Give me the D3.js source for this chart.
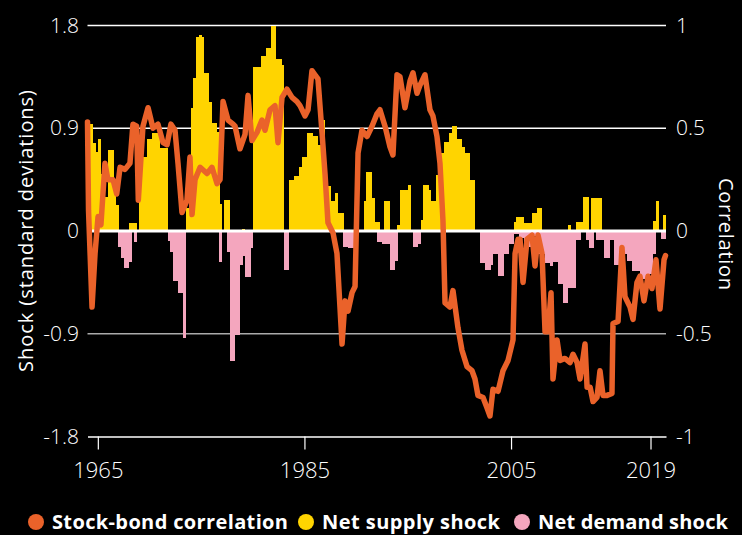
<!DOCTYPE html>
<html>
<head>
<meta charset="utf-8">
<script src="https://cdn.jsdelivr.net/npm/d3@7"></script>
<style>
  body { margin: 0; background: #000; }
  svg { display: block; font-family: "Open Sans", Roboto, sans-serif; }
</style>
</head>
<body>
<script>
// quarterly shocks, first quarter = 1964 Q1
var startYear = 1964;

var supplyShock = [
  0.94, 0.94, 0.77, 0.69, 0.81, 0.5, 0.3, 0.3,
  0.71, 0.71, 0.39, 0.23, 0, 0, 0, 0,
  0.07, 0.07, 0.07, 0, 0.6, 0.65, 0.65, 0.81,
  0.81, 0.86, 0.86, 0.86, 0.73, 0.73, 0.73, 0,
  0, 0, 0, 0, 0, 0, 0.2, 0.2,
  1.08, 1.34, 1.70, 1.72, 1.70, 1.38, 1.38, 1.13,
  0.95, 0.95, 0.87, 0.24, 0, 0.27, 0.27, 0,
  0, 0, 0, 0, 0.02, 0, 0, 0,
  1.44, 1.44, 1.44, 1.53, 1.53, 1.60, 1.60, 1.80,
  1.80, 1.51, 1.51, 1.45, 0, 0, 0.45, 0.45,
  0.48, 0.48, 0.56, 0.65, 0.65, 0.86, 0.86, 0.83,
  0.83, 0.75, 0.75, 0.97, 0.39, 0.39, 0.26, 0.26,
  0.33, 0.16, 0.16, 0, 0, 0, 0, 0,
  0, 0, 0, 0.26, 0.52, 0.52, 0.29, 0.08,
  0.08, 0, 0, 0.26, 0.26, 0, 0, 0,
  0.05, 0.36, 0.36, 0.36, 0.40, 0, 0, 0,
  0, 0.1, 0.40, 0.40, 0.36, 0.26, 0.26, 0.49,
  0.49, 0.68, 0.78, 0.78, 0.86, 0.92, 0.92, 0.81,
  0.81, 0.74, 0.68, 0.68, 0.45, 0.45, 0, 0,
  0, 0, 0, 0, 0, 0, 0, 0,
  0, 0, 0, 0, 0, 0.08, 0.12, 0.12,
  0.12, 0.07, 0.07, 0.07, 0.16, 0.16, 0.20, 0.20,
  0, 0, 0, 0, 0, 0, 0, 0,
  0, 0, 0.05, 0, 0, 0.08, 0.08, 0.08,
  0.30, 0.30, 0, 0.29, 0.29, 0.29, 0.29, 0,
  0, 0, 0, 0, 0, 0, 0, 0,
  0, 0, 0, 0, 0, 0, 0, 0,
  0, 0, 0, 0.09, 0.26, 0, 0, 0.14
];

var demandShock = [
  0, 0, 0, 0, 0, 0, 0, 0,
  0, 0, 0, 0, -0.14, -0.24, -0.32, -0.32,
  -0.27, 0, -0.10, 0, 0, 0, 0, 0,
  0, 0, 0, 0, 0, 0, 0, -0.09,
  -0.18, -0.44, -0.44, -0.54, -0.54, -0.94, 0, 0,
  0, 0, 0, 0, 0, 0, 0, 0,
  0, 0, 0, -0.27, 0, 0, -0.18, -1.14,
  -1.14, -0.91, -0.91, -0.30, -0.22, -0.40, -0.40, -0.15,
  0, 0, 0, 0, 0, 0, 0, 0,
  0, 0, 0, 0, -0.34, -0.34, 0, 0,
  0, 0, 0, 0, 0, 0, 0, 0,
  0, 0, 0, 0, 0, 0, 0, 0,
  0, 0, 0, -0.14, -0.14, -0.15, -0.15, 0,
  0, 0, 0, 0, 0, 0, 0, 0,
  -0.10, -0.10, -0.11, -0.11, -0.11, -0.34, -0.34, -0.26,
  0, 0, 0, 0, 0, 0, -0.14, -0.14,
  -0.11, 0, 0, 0, 0, 0, 0, 0,
  0, 0, 0, 0, 0, 0, 0, 0,
  0, 0, 0, 0, 0, 0, 0, 0,
  -0.28, -0.28, -0.34, -0.34, -0.30, -0.20, -0.20, -0.39,
  -0.39, -0.20, -0.20, -0.11, -0.11, -0.03, -0.03, -0.06,
  -0.06, -0.14, -0.14, -0.14, -0.04, -0.04, -0.20, -0.20,
  -0.20, -0.28, -0.28, -0.31, -0.27, -0.27, -0.46, -0.46,
  -0.63, -0.63, -0.50, -0.50, -0.50, -0.08, -0.08, 0,
  0, -0.08, -0.15, -0.15, 0, -0.08, -0.08, -0.08,
  -0.24, -0.24, -0.08, -0.08, -0.30, -0.30, -0.20, -0.20,
  -0.20, -0.26, -0.26, -0.35, -0.35, -0.35, -0.42, -0.42,
  -0.42, -0.38, -0.38, -0.20, 0, 0, -0.07, -0.07
];

// stock-bond correlation, [year, value]
var correlation = [
  [1964.0, 0.53], [1964.1, 0.1], [1964.44, -0.37], [1964.73, -0.11], [1965.02, 0.07],
  [1965.3, 0.03], [1965.69, 0.33], [1965.98, 0.25], [1966.47, 0.25], [1966.83, 0.18],
  [1967.15, 0.31], [1967.63, 0.30], [1968.11, 0.33], [1968.4, 0.52], [1968.76, 0.51],
  [1968.92, 0.15], [1969.37, 0.51], [1969.86, 0.60], [1970.34, 0.50], [1970.82, 0.52],
  [1971.31, 0.43], [1971.7, 0.42], [1972.08, 0.52], [1972.47, 0.49], [1972.76, 0.33],
  [1973.15, 0.09], [1973.63, 0.15], [1973.92, 0.36], [1974.12, 0.08], [1974.41, 0.25],
  [1974.9, 0.31], [1975.57, 0.28], [1976.05, 0.31], [1976.54, 0.23], [1976.83, 0.25],
  [1977.12, 0.63], [1977.6, 0.54], [1978.09, 0.52], [1978.28, 0.51], [1978.76, 0.40],
  [1979.25, 0.47], [1979.54, 0.66], [1979.92, 0.44], [1980.41, 0.48], [1980.89, 0.54],
  [1981.18, 0.49], [1981.67, 0.59], [1982.15, 0.61], [1982.44, 0.43], [1982.83, 0.65],
  [1983.31, 0.69], [1983.8, 0.65], [1984.28, 0.63], [1984.57, 0.61], [1985.06, 0.56],
  [1985.35, 0.59], [1985.73, 0.78], [1986.02, 0.76], [1986.31, 0.74], [1986.7, 0.48],
  [1986.99, 0.28], [1987.28, 0.04], [1987.77, -0.01], [1988.15, -0.11], [1988.64, -0.55],
  [1988.93, -0.34], [1989.22, -0.39], [1989.61, -0.30], [1989.9, -0.27], [1990.19, 0.38],
  [1990.57, 0.49], [1991.06, 0.46], [1991.54, 0.51], [1992.02, 0.57], [1992.31, 0.59],
  [1992.8, 0.51], [1993.28, 0.41], [1993.57, 0.37], [1993.96, 0.76], [1994.25, 0.75],
  [1994.73, 0.60], [1995.22, 0.73], [1995.51, 0.77], [1995.9, 0.67], [1996.19, 0.71],
  [1996.67, 0.76], [1997.15, 0.59], [1997.44, 0.56], [1997.83, 0.46], [1998.12, 0.33],
  [1998.41, 0.05], [1998.61, -0.35], [1999.09, -0.37], [1999.38, -0.29], [1999.86, -0.47],
  [2000.25, -0.58], [2000.74, -0.66], [2001.22, -0.68], [2001.51, -0.72], [2001.8, -0.80],
  [2002.29, -0.81], [2002.67, -0.86], [2002.96, -0.90], [2003.25, -0.77], [2003.74, -0.78],
  [2004.22, -0.68], [2004.71, -0.63], [2005.19, -0.53], [2005.39, -0.11], [2005.68, -0.04],
  [2005.87, -0.04], [2006.16, -0.25], [2006.55, -0.04], [2007.03, -0.02], [2007.32, -0.17],
  [2007.61, -0.02], [2008.0, -0.11], [2008.29, -0.49], [2008.58, -0.49], [2008.87, -0.30],
  [2009.06, -0.72], [2009.45, -0.53], [2009.74, -0.63], [2010.22, -0.62], [2010.71, -0.64],
  [2011.0, -0.60], [2011.39, -0.64], [2011.68, -0.72], [2012.16, -0.55], [2012.36, -0.76],
  [2012.65, -0.76], [2012.94, -0.83], [2013.32, -0.81], [2013.61, -0.68], [2013.9, -0.80],
  [2014.29, -0.80], [2014.77, -0.79], [2014.87, -0.45], [2015.36, -0.44], [2015.74, -0.08],
  [2016.03, -0.32], [2016.52, -0.37], [2016.81, -0.43], [2017.19, -0.25], [2017.48, -0.22],
  [2017.87, -0.34], [2018.26, -0.22], [2018.64, -0.28], [2019.03, -0.14], [2019.42, -0.38],
  [2019.81, -0.14], [2019.95, -0.12]
];

var leftTicks = [-1.8, -0.9, 0, 0.9, 1.8];
var leftLabels = ["-1.8", "-0.9", "0", "0.9", "1.8"];
var rightTicks = [-1, -0.5, 0, 0.5, 1];
var rightLabels = ["-1", "-0.5", "0", "0.5", "1"];
var xTickYears = [1965, 1985, 2005, 2018.5];
var xTickLabels = ["1965", "1985", "2005", "2019"];

var legendItems = ["Stock-bond correlation", "Net supply shock", "Net demand shock"];
var legendColors = ["#EA622A", "#FFD400", "#F4A6BE"];

var width = 742, height = 535;

var svg = d3.select("body").append("svg")
    .attr("width", width)
    .attr("height", height)
    .style("background", "#000");

var x = d3.scaleLinear().domain([1964, 2020]).range([87.5, 666]);
var yL = d3.scaleLinear().domain([-1.8, 1.8]).range([436.5, 25.5]);
var yR = d3.scaleLinear().domain([-1, 1]).range([436.5, 25.5]);

// gridlines
svg.append("g")
    .selectAll("line")
    .data(leftTicks.filter(function(d) { return d != 0 && d != -1.8; }))
    .enter().append("line")
    .attr("x1", x(1964)).attr("x2", x(2020))
    .attr("y1", function(d) { return yL(d); })
    .attr("y2", function(d) { return yL(d); })
    .style("stroke", function(d) { return d < 0 ? "#aaa" : "#fff"; })
    .style("stroke-width", 1.5);

// bars
var quarterW = x(startYear + 0.25) - x(startYear);

svg.append("g")
    .selectAll("rect")
    .data(supplyShock)
    .enter().append("rect")
    .attr("x", function(d, i) { return x(startYear + i / 4); })
    .attr("width", quarterW + 0.4)
    .attr("y", function(d) { return yL(d); })
    .attr("height", function(d) { return yL(0) - yL(d); })
    .attr("shape-rendering", "crispEdges")
    .style("fill", legendColors[1]);

svg.append("g")
    .selectAll("rect")
    .data(demandShock)
    .enter().append("rect")
    .attr("x", function(d, i) { return x(startYear + i / 4); })
    .attr("width", quarterW + 0.4)
    .attr("y", yL(0))
    .attr("height", function(d) { return yL(d) - yL(0); })
    .attr("shape-rendering", "crispEdges")
    .style("fill", legendColors[2]);

// zero line
svg.append("line")
    .attr("x1", x(1964)).attr("x2", x(2020))
    .attr("y1", yL(0)).attr("y2", yL(0))
    .style("stroke", "#fff")
    .style("stroke-width", 3);

// x axis
var xAxis = d3.axisBottom(x)
    .tickValues(xTickYears)
    .tickFormat(function(d, i) { return xTickLabels[i]; })
    .tickSize(13)
    .tickSizeOuter(0)
    .tickPadding(13);

var gx = svg.append("g")
    .attr("transform", "translate(0," + yL(-1.8) + ")")
    .call(xAxis);
gx.select(".domain").style("stroke", "#fff").style("stroke-width", 1.5);
gx.selectAll(".tick line").style("stroke", "#fff").style("stroke-width", 1.2);
gx.selectAll(".tick text")
    .style("fill", "#fff")
    .style("font-family", "'Open Sans', sans-serif")
    .style("font-size", "22px")
    .style("font-weight", 300)
    .attr("dy", "0.71em");

// left axis labels
var gl = svg.append("g")
    .attr("transform", "translate(79,0)")
    .call(d3.axisLeft(yL).tickValues(leftTicks).tickSize(0).tickPadding(0)
        .tickFormat(function(d, i) { return leftLabels[i]; }));
gl.select(".domain").remove();
gl.selectAll(".tick text")
    .style("fill", "#fff")
    .style("font-family", "'Open Sans', sans-serif")
    .style("font-size", "21px")
    .style("font-weight", 300);

// right axis labels
var gr = svg.append("g")
    .attr("transform", "translate(676,0)")
    .call(d3.axisRight(yR).tickValues(rightTicks).tickSize(0).tickPadding(0)
        .tickFormat(function(d, i) { return rightLabels[i]; }));
gr.select(".domain").remove();
gr.selectAll(".tick text")
    .style("fill", "#fff")
    .style("font-family", "'Open Sans', sans-serif")
    .style("font-size", "21px")
    .style("font-weight", 300);

// axis titles
svg.append("text")
    .attr("transform", "translate(33,231) rotate(-90)")
    .attr("text-anchor", "middle")
    .attr("textLength", 282)
    .style("fill", "#fff")
    .style("font-size", "20px")
    .text("Shock (standard deviations)");

svg.append("text")
    .attr("transform", "translate(719,234) rotate(90)")
    .attr("text-anchor", "middle")
    .attr("textLength", 112)
    .style("fill", "#fff")
    .style("font-size", "20px")
    .text("Correlation");

// correlation line
var line = d3.line()
    .x(function(d) { return x(d[0]); })
    .y(function(d) { return yR(d[1]); });

svg.append("path")
    .datum(correlation)
    .attr("d", line)
    .style("fill", "none")
    .style("stroke", legendColors[0])
    .style("stroke-width", 5.5)
    .style("stroke-linejoin", "round")
    .style("stroke-linecap", "round");

// legend
var legendX = [36, 306, 522];
var legendW = [236, 178, 190];
var legend = svg.append("g")
    .selectAll("g")
    .data(legendItems)
    .enter().append("g")
    .attr("transform", function(d, i) { return "translate(" + legendX[i] + ",522)"; });

legend.append("circle")
    .attr("r", 8)
    .style("fill", function(d, i) { return legendColors[i]; });

legend.append("text")
    .attr("x", 16)
    .attr("dy", "0.35em")
    .attr("textLength", function(d, i) { return legendW[i]; })
    .style("fill", "#fff")
    .style("font-size", "20px")
    .style("font-weight", 700)
    .text(function(d) { return d; });
</script>
</body>
</html>
